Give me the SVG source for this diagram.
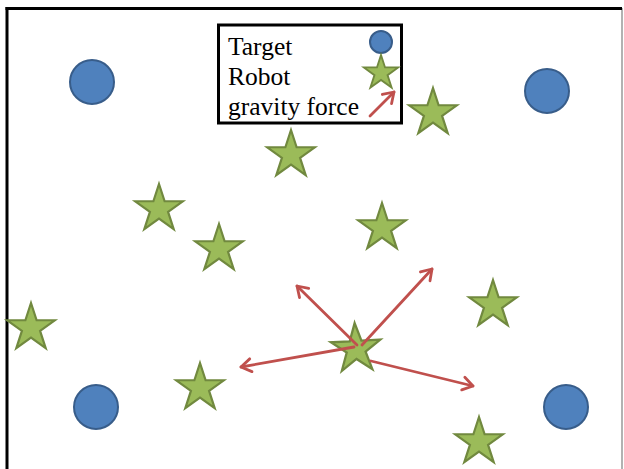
<svg xmlns="http://www.w3.org/2000/svg" xmlns:xlink="http://www.w3.org/1999/xlink" width="624" height="469" viewBox="0 0 624 469">
<defs>
<style>
.target{fill:#4F81BD;stroke:#385D8A;stroke-width:2}
.robot{fill:#9BBB59;stroke:#71893F;stroke-width:2.2;stroke-linejoin:miter}
.force{stroke:#C0504D;stroke-width:2.8;fill:none;stroke-linecap:round}
.lbl{font-family:"Liberation Serif","Times New Roman",serif;font-size:25.5px;fill:#000}
</style>
<path id="star" d="M0,-25 L5.61,-7.73 L23.78,-7.73 L9.08,2.95 L14.69,20.23 L0,9.55 L-14.69,20.23 L-9.08,2.95 L-23.78,-7.73 L-5.61,-7.73 Z"/>
<marker id="arr" viewBox="-13 -9 15 18" refX="0" refY="0" markerWidth="15" markerHeight="18" markerUnits="userSpaceOnUse" orient="auto">
<path d="M-10,-6.5 L0,0 L-10,6.5" fill="none" stroke="#C0504D" stroke-width="2.8" stroke-linecap="round" stroke-linejoin="round"/>
</marker>
</defs>
<rect width="624" height="469" fill="#fff"/>
<g id="frame">
<line x1="622" y1="8" x2="622" y2="469" stroke="#999" stroke-width="1.5"/>
<line x1="5.5" y1="8.5" x2="622" y2="8.5" stroke="#000" stroke-width="3"/>
<line x1="7" y1="7" x2="7" y2="469" stroke="#000" stroke-width="3"/>
</g>
<g id="targets">
<g id="target1"><circle class="target" cx="92" cy="82" r="22"/></g>
<g id="target2"><circle class="target" cx="547" cy="91" r="22"/></g>
<g id="target3"><circle class="target" cx="96" cy="407" r="22"/></g>
<g id="target4"><circle class="target" cx="566" cy="407" r="22"/></g>
</g>
<g id="robots">
<g id="robot1" transform="translate(291,155)"><use xlink:href="#star" class="robot"/></g>
<g id="robot2" transform="translate(433,113)"><use xlink:href="#star" class="robot"/></g>
<g id="robot3" transform="translate(159,209)"><use xlink:href="#star" class="robot"/></g>
<g id="robot4" transform="translate(219,249)"><use xlink:href="#star" class="robot"/></g>
<g id="robot5" transform="translate(382,228)"><use xlink:href="#star" class="robot"/></g>
<g id="robot6" transform="translate(493,305)"><use xlink:href="#star" class="robot"/></g>
<g id="robot7" transform="translate(31,328)"><use xlink:href="#star" class="robot"/></g>
<g id="robot8" transform="translate(356,349) rotate(-3) scale(1.04)"><use xlink:href="#star" class="robot"/></g>
<g id="robot9" transform="translate(200,388)"><use xlink:href="#star" class="robot"/></g>
<g id="robot10" transform="translate(479,442)"><use xlink:href="#star" class="robot"/></g>
</g>
<g id="connectors">
<line class="force" x1="357" y1="345" x2="297" y2="286" marker-end="url(#arr)"/>
<line class="force" x1="362" y1="345" x2="432" y2="269" marker-end="url(#arr)"/>
<line class="force" x1="354" y1="347" x2="241" y2="367" marker-end="url(#arr)"/>
<line class="force" x1="371" y1="361" x2="473" y2="386" marker-end="url(#arr)"/>
</g>
<g id="legend">
<rect x="218.5" y="25" width="183" height="98" fill="#fff" stroke="#000" stroke-width="3"/>
<text class="lbl" x="228" y="55">Target</text>
<text class="lbl" x="228" y="85">Robot</text>
<text class="lbl" x="228" y="115">gravity force</text>
<circle class="target" cx="381" cy="42" r="11"/>
<g transform="translate(381,73) scale(0.72)"><use xlink:href="#star" class="robot" style="stroke-width:2.6"/></g>
<line class="force" x1="370" y1="116" x2="394" y2="92" marker-end="url(#arr)"/>
</g>
</svg>
